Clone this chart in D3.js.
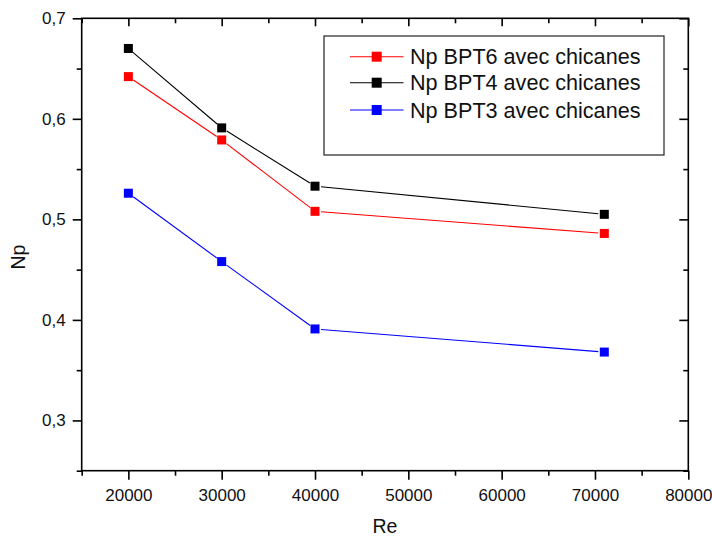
<!DOCTYPE html>
<html>
<head>
<meta charset="utf-8">
<script src="https://cdn.jsdelivr.net/npm/d3@7"></script>
<style>
  html, body { margin: 0; padding: 0; background: #fff; }
  svg { display: block; font-family: "Liberation Sans", Arial, sans-serif; }
</style>
</head>
<body>
<svg id="chart" width="712" height="540"></svg>
<script>
// Reynolds numbers tested
const reValues = [20000, 30000, 40000, 71000];

// Power number per impeller configuration
const npBPT6 = [0.642, 0.579, 0.508, 0.486];
const npBPT4 = [0.670, 0.591, 0.533, 0.505];
const npBPT3 = [0.526, 0.458, 0.391, 0.368];

const seriesNames = ["Np BPT6 avec chicanes", "Np BPT4 avec chicanes", "Np BPT3 avec chicanes"];
const seriesColors = ["#ff0000", "#000000", "#0000ff"];

const xTicks = [20000, 30000, 40000, 50000, 60000, 70000, 80000];
const xMinor = [15000, 25000, 35000, 45000, 55000, 65000, 75000];
const yTicks = [0.3, 0.4, 0.5, 0.6, 0.7];
const yMinor = [0.25, 0.35, 0.45, 0.55, 0.65];

const series = [npBPT6, npBPT4, npBPT3].map((vals, i) => ({
  name: seriesNames[i],
  color: seriesColors[i],
  points: reValues.map((re, j) => ({ re, np: vals[j] }))
}));

const svg = d3.select("#chart");
const plotL = 81.7, plotR = 688.3, plotT = 18.3, plotB = 470.7;

const x = d3.scaleLinear().domain([15000, 80000]).range([plotL, plotR]);
const y = d3.scaleLinear().domain([0.25, 0.7]).range([plotB, plotT]);

const fmtY = d => d3.format(".1f")(d).replace(".", ",");

// frame
svg.append("rect")
  .attr("x", plotL).attr("y", plotT)
  .attr("width", plotR - plotL).attr("height", plotB - plotT)
  .attr("fill", "none").attr("stroke", "#000").attr("stroke-width", 1.6);

// bottom axis (outward ticks)
const xAxis = svg.append("g").attr("transform", `translate(0,${plotB})`)
  .call(d3.axisBottom(x).tickValues(xTicks).tickSize(9).tickPadding(9).tickFormat(d3.format("d")));
svg.append("g").attr("transform", `translate(0,${plotB})`)
  .call(d3.axisBottom(x).tickValues(xMinor).tickSize(5).tickFormat(""));

// left axis (outward ticks)
const yAxis = svg.append("g").attr("transform", `translate(${plotL},0)`)
  .call(d3.axisLeft(y).tickValues(yTicks).tickSize(9).tickPadding(7).tickFormat(fmtY));
svg.append("g").attr("transform", `translate(${plotL},0)`)
  .call(d3.axisLeft(y).tickValues(yMinor).tickSize(5).tickFormat(""));

// top and right mirror ticks (inward)
svg.append("g").attr("transform", `translate(0,${plotT})`)
  .call(d3.axisBottom(x).tickValues(xTicks).tickSize(8).tickFormat(""));
svg.append("g").attr("transform", `translate(0,${plotT})`)
  .call(d3.axisBottom(x).tickValues(xMinor).tickSize(5).tickFormat(""));
svg.append("g").attr("transform", `translate(${plotR},0)`)
  .call(d3.axisLeft(y).tickValues(yTicks).tickSize(9).tickFormat(""));
svg.append("g").attr("transform", `translate(${plotR},0)`)
  .call(d3.axisLeft(y).tickValues(yMinor).tickSize(5).tickFormat(""));

svg.selectAll(".domain").remove();
svg.selectAll(".tick line").attr("stroke", "#000").attr("stroke-width", 1.6);
xAxis.selectAll(".tick text").attr("font-size", 17).attr("fill", "#111");
yAxis.selectAll(".tick text").attr("font-size", 17).attr("fill", "#111");

// axis titles
svg.append("text")
  .attr("x", (plotL + plotR) / 2).attr("y", 533)
  .attr("text-anchor", "middle").attr("font-size", 19.5).attr("fill", "#111")
  .text("Re");
svg.append("text")
  .attr("transform", `translate(25,257) rotate(-90)`)
  .attr("text-anchor", "middle").attr("font-size", 19.5).attr("fill", "#111")
  .text("Np");

// lines with small gaps around each marker
const gap = 6;
series.forEach(s => {
  const g = svg.append("g");
  for (let i = 0; i < s.points.length - 1; i++) {
    const x1 = x(s.points[i].re), y1 = y(s.points[i].np);
    const x2 = x(s.points[i + 1].re), y2 = y(s.points[i + 1].np);
    const len = Math.hypot(x2 - x1, y2 - y1);
    const ux = (x2 - x1) / len, uy = (y2 - y1) / len;
    g.append("line")
      .attr("x1", x1 + ux * gap).attr("y1", y1 + uy * gap)
      .attr("x2", x2 - ux * gap).attr("y2", y2 - uy * gap)
      .attr("stroke", s.color).attr("stroke-width", 1.1);
  }
  g.selectAll("rect").data(s.points).join("rect")
    .attr("x", d => x(d.re) - 4.5).attr("y", d => y(d.np) - 4.5)
    .attr("width", 9).attr("height", 9)
    .attr("fill", s.color);
});

// legend
const lg = svg.append("g");
lg.append("rect")
  .attr("x", 324).attr("y", 36).attr("width", 340).attr("height", 119)
  .attr("fill", "#fff").attr("stroke", "#222").attr("stroke-width", 1.2);
const legendRows = [56.7, 82.7, 110];
series.forEach((s, i) => {
  const ry = legendRows[i];
  lg.append("line")
    .attr("x1", 350).attr("x2", 403.5).attr("y1", ry).attr("y2", ry)
    .attr("stroke", s.color).attr("stroke-width", 1.1);
  lg.append("rect")
    .attr("x", 376.7 - 5).attr("y", ry - 5).attr("width", 10).attr("height", 10)
    .attr("fill", s.color);
  lg.append("text")
    .attr("x", 410).attr("y", ry + 7.7)
    .attr("font-size", 21.6).attr("fill", "#111")
    .text(s.name);
});
</script>
</body>
</html>
